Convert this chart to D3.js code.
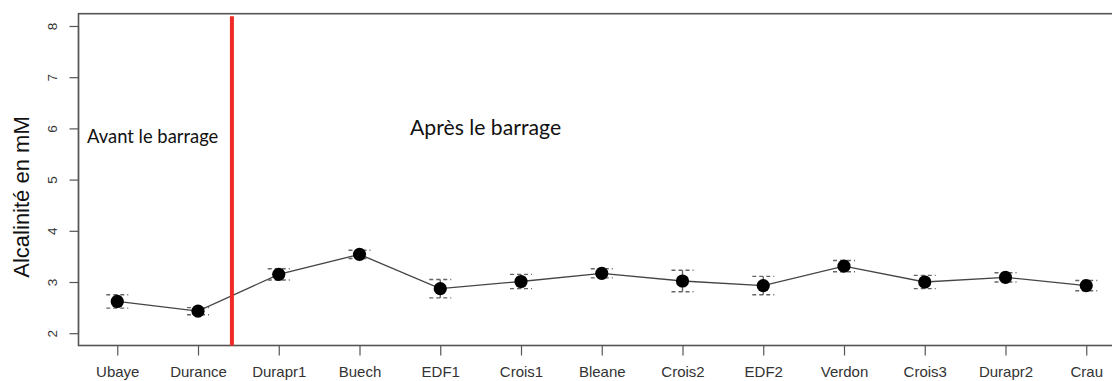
<!DOCTYPE html>
<html>
<head>
<meta charset="utf-8">
<script src="https://cdn.jsdelivr.net/npm/d3@7"></script>
<style>
  html, body { margin: 0; padding: 0; background: #fff; }
  svg { display: block; }
</style>
</head>
<body>
<svg id="chart" width="1112" height="381"></svg>
<script>
// Sampling sites along the river
const sites = ["Ubaye", "Durance", "Durapr1", "Buech", "EDF1", "Crois1", "Bleane",
               "Crois2", "EDF2", "Verdon", "Crois3", "Durapr2", "Crau"];
// Mean alkalinity (mM) and error half-width
const alkalinity = [2.62, 2.43, 3.15, 3.54, 2.87, 3.01, 3.17, 3.02, 2.93, 3.31, 3.00, 3.09, 2.93];
const errors     = [0.13, 0.07, 0.11, 0.08, 0.18, 0.14, 0.09, 0.21, 0.18, 0.11, 0.13, 0.09, 0.10];
const yTicks = [2, 3, 4, 5, 6, 7, 8];
// Position of the dam, in site-index units
const damPosition = [1.42];
const annotations = ["Avant le barrage", "Après le barrage"];

const svg = d3.select("#chart");
const box = { left: 78.5, right: 1125, top: 13.7, bottom: 345.5 };

const n = sites.length;
const x = d3.scaleLinear()
  .domain([-0.48, n - 1 + 0.48])
  .range([box.left, box.right]);
const y = d3.scaleLinear()
  .domain([1.76, 8.24])
  .range([box.bottom, box.top]);

const axisColor = "#555";
const textColor = "#333";
const axisFont = "'Liberation Sans', Arial, sans-serif";

// Y axis with rotated labels
const yAxis = svg.append("g")
  .attr("transform", `translate(${box.left},0)`)
  .call(d3.axisLeft(y).tickValues(yTicks).tickFormat(d3.format("d"))
        .tickSize(9).tickSizeOuter(0).tickPadding(0));
yAxis.select(".domain").attr("stroke", axisColor).attr("stroke-width", 1.2)
  .attr("d", `M0,${y(2)}V${y(8)}`);
yAxis.selectAll(".tick line").attr("stroke", axisColor).attr("stroke-width", 1.2);
yAxis.selectAll(".tick text")
  .attr("fill", textColor)
  .attr("font-family", axisFont)
  .attr("font-size", 13.5)
  .attr("text-anchor", "middle")
  .attr("x", 0).attr("dy", 0)
  .attr("transform", "translate(-26,0) rotate(-90)")
  .attr("dominant-baseline", "central");

// X axis
const xAxis = svg.append("g")
  .attr("transform", `translate(0,${box.bottom})`)
  .call(d3.axisBottom(x).tickValues(d3.range(n)).tickFormat(i => sites[i])
        .tickSize(10).tickSizeOuter(0).tickPadding(11));
xAxis.select(".domain").remove();
xAxis.selectAll(".tick line").attr("stroke", axisColor).attr("stroke-width", 1.2);
xAxis.selectAll(".tick text")
  .attr("fill", textColor)
  .attr("font-family", axisFont)
  .attr("font-size", 15);

// Plot frame
svg.append("rect")
  .attr("x", box.left).attr("y", box.top)
  .attr("width", box.right - box.left).attr("height", box.bottom - box.top)
  .attr("fill", "none").attr("stroke", axisColor).attr("stroke-width", 1.6);

// Axis title
svg.append("text")
  .attr("transform", `translate(29,197) rotate(-90)`)
  .attr("text-anchor", "middle")
  .attr("font-family", axisFont)
  .attr("font-size", 22)
  .attr("fill", "#111")
  .text("Alcalinité en mM");

// Connecting line
const line = d3.line().x((d, i) => x(i)).y(d => y(d));
svg.append("path")
  .datum(alkalinity)
  .attr("d", line)
  .attr("fill", "none")
  .attr("stroke", "#444")
  .attr("stroke-width", 1.3);

// Error bars
const eb = svg.append("g").attr("stroke", "#666").attr("stroke-width", 1.4);
alkalinity.forEach((v, i) => {
  const cx = x(i), hi = y(v + errors[i]), lo = y(v - errors[i]);
  eb.append("line").attr("x1", cx).attr("x2", cx).attr("y1", hi).attr("y2", lo);
  [hi, lo].forEach(yy => {
    eb.append("line")
      .attr("x1", cx - 11).attr("x2", cx + 11)
      .attr("y1", yy).attr("y2", yy)
      .attr("stroke-dasharray", "4,3");
  });
});

// Points
svg.append("g").selectAll("circle")
  .data(alkalinity)
  .join("circle")
  .attr("cx", (d, i) => x(i))
  .attr("cy", d => y(d))
  .attr("r", 6.6)
  .attr("fill", "#000");

// Dam marker
svg.selectAll(".dam")
  .data(damPosition)
  .join("line")
  .attr("class", "dam")
  .attr("x1", d => x(d)).attr("x2", d => x(d))
  .attr("y1", box.top + 2.5).attr("y2", box.bottom)
  .attr("stroke", "#ee2b24")
  .attr("stroke-width", 4);

// Period labels
const labelFont = "Lato, 'Open Sans', sans-serif";
svg.append("text")
  .attr("x", 87).attr("y", 143)
  .attr("font-family", labelFont).attr("font-size", 18.4)
  .attr("fill", "#111")
  .text(annotations[0]);
svg.append("text")
  .attr("x", 410).attr("y", 135)
  .attr("font-family", labelFont).attr("font-size", 21.2)
  .attr("fill", "#111")
  .text(annotations[1]);
</script>
</body>
</html>
